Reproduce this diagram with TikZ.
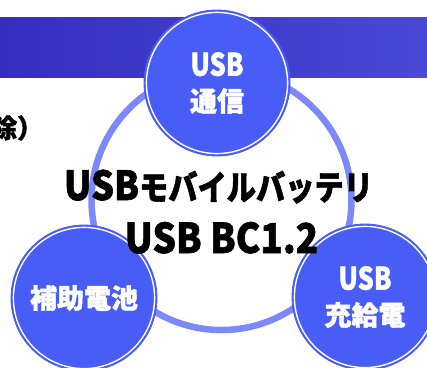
\documentclass[tikz,border=0pt]{standalone}
\usepackage{graphicx}
\usepackage{fontspec}
\setmainfont{Noto Sans CJK JP}
\newfontfamily\heavy[BoldFeatures={FakeBold=1.6}]{Noto Sans CJK JP}
\definecolor{bandL}{RGB}{54,46,192}
\definecolor{bandR}{RGB}{74,72,214}
\definecolor{cblue}{RGB}{72,92,246}
\definecolor{ringc}{RGB}{125,136,250}
\tikzset{
  circ/.style={circle, minimum size=146pt, inner sep=0pt, fill=cblue, draw=cblue, line width=0.8pt,
    text=white, align=center, font=\heavy\bfseries\fontsize{27}{35.5}\selectfont,
    path picture={\draw[white,line width=1.4pt] (path picture bounding box.center) circle (70.6pt);}},
  title/.style={inner sep=0pt, anchor=base, text=black, font=\heavy\bfseries},
  ringline/.style={draw=ringc, line width=6.5pt}
}
\newcommand{\cusb}{\scalebox{0.82}[1]{\fontsize{31}{31}\selectfont USB}}
\begin{document}
\begin{tikzpicture}[x=1pt,y=-1pt]
\useasboundingbox (0,0) rectangle (427,367);
\shade[left color=bandL, right color=bandR] (0,17) rectangle (427,77);
\node[inner sep=0pt, anchor=west, font=\heavy\bfseries\fontsize{26}{26}\selectfont] (cut) at (-9,128) {除）};
\coordinate (rc) at (221.5,200);
\draw[ringline] (rc) circle (130);
\node[circ] (top) at (217,83) {\cusb\\通信};
\node[circ] (left) at (84,298) {補助電池};
\node[circ] (right) at (365,297) {\cusb\\充給電};
\node[title] (t1) at (218.5,200) {\scalebox{0.9}[1]{\fontsize{40}{40}\selectfont USB}\scalebox{0.86}[1]{\fontsize{34}{34}\selectfont モバイルバッテリ}};
\node[title] (t2) at (221.5,253) {\scalebox{0.9}[1]{\fontsize{41}{41}\selectfont USB BC1.2}};
\end{tikzpicture}
\end{document}
